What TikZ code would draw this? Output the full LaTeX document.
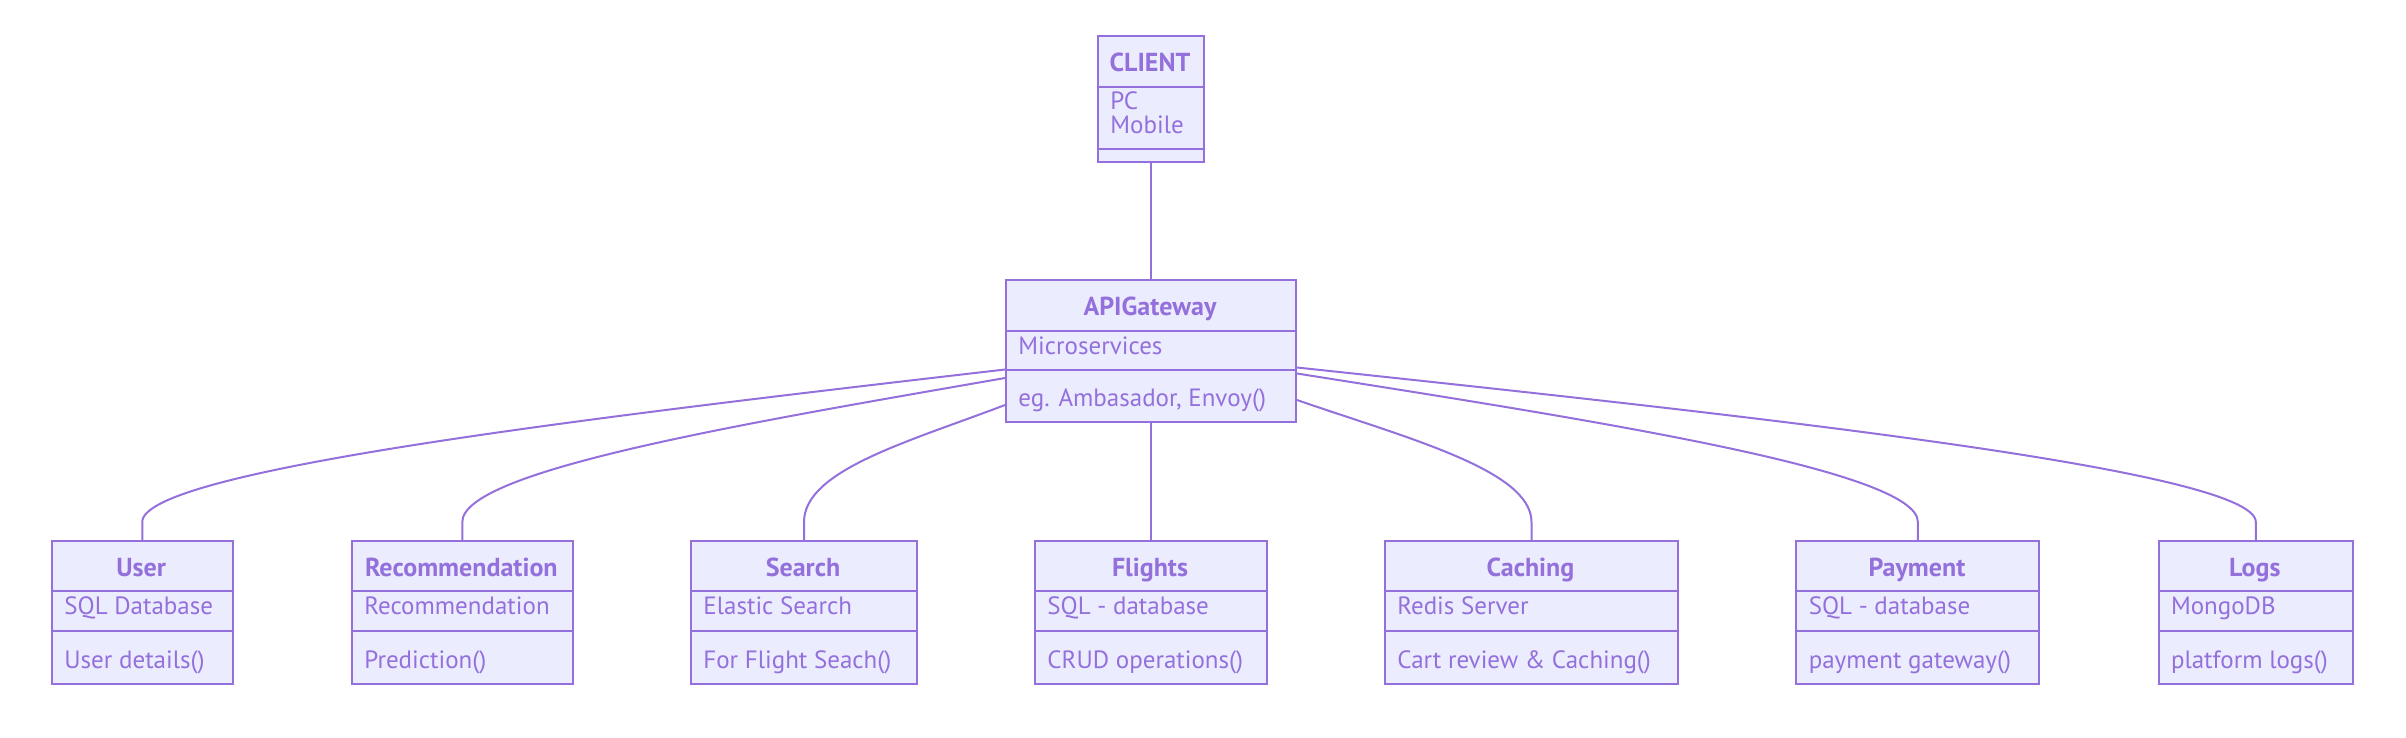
\documentclass[tikz,border=0pt]{standalone}
\usepackage{fontspec}
\setmainfont{PT Sans}
\definecolor{mpurple}{HTML}{9370DB}
\definecolor{mfill}{HTML}{ECECFF}
\newcommand{\bbox}[6]{%
  \node[box, minimum width={(#3-#2)*0.5pt}, minimum height={142.5*0.5pt}] (#1) at (#2,540) {};
  \draw[divider] (#2,591) -- (#3,591);
  \draw[divider] (#2,630.5) -- (#3,630.5);
  \node[ttl] (#1-t) at ({(#2+#3)/2},576) {#4};
  \node[txt] (#1-a) at (#2+13,614) {#5};
  \node[txt] (#1-m) at (#2+13,668.5) {#6};
}
\begin{document}
\begin{tikzpicture}[x=0.5pt,y=-0.5pt,
  box/.style={draw=mpurple, fill=mfill, line width=1pt, inner sep=0pt, anchor=north west},
  divider/.style={draw=mpurple, line width=1pt},
  edge/.style={draw=mpurple, line width=1pt},
  ttl/.style={text=mpurple, font=\bfseries\fontsize{13}{15}\selectfont, anchor=base, inner sep=0pt},
  txt/.style={text=mpurple, font=\fontsize{12.5}{15}\selectfont, anchor=base west, inner sep=0pt}]
\useasboundingbox (0,0) rectangle (2406,738);
% CLIENT
\node[box, minimum width={106*0.5pt}, minimum height={125.7*0.5pt}] (client) at (1097,35) {};
\draw[divider] (1097,86.7) -- (1203,86.7);
\draw[divider] (1097,149.3) -- (1203,149.3);
\node[ttl] (client-t) at (1150,71.7) {CLIENT};
\node[txt] (client-a1) at (1110,110) {PC};
\node[txt] (client-a2) at (1110,133.3) {Mobile};
% APIGateway
\node[box, minimum width={290*0.5pt}, minimum height={141.7*0.5pt}] (api) at (1005,279) {};
\draw[divider] (1005,330.7) -- (1295,330.7);
\draw[divider] (1005,370) -- (1295,370);
\node[ttl] (api-t) at (1150,315) {APIGateway};
\node[txt] (api-a) at (1018,354.3) {Microservices};
\node[txt] (api-m) at (1018,406) {eg. Ambasador, Envoy()};
% bottom row
\bbox{user}{51}{231.5}{User}{SQL Database}{User details()}
\bbox{rec}{351}{571.6}{Recommendation}{Recommendation}{Prediction()}
\bbox{search}{690}{916}{Search}{Elastic Search}{For Flight Seach()}
\bbox{flights}{1034}{1266}{Flights}{SQL - database}{CRUD operations()}
\bbox{caching}{1384}{1677}{Caching}{Redis Server}{Cart review \& Caching()}
\bbox{payment}{1795.4}{2038.4}{Payment}{SQL - database}{payment gateway()}
\bbox{logs}{2157.6}{2352}{Logs}{MongoDB}{platform logs()}
% connectors
\draw[edge] (client.south) -- (api.north);
\draw[edge] (api.south) -- (flights.north);
\draw[edge] (api.west |- 0,369.5) .. controls (599,416.5) and (user.north |- 0,470) .. (user.north |- 0,522) -- (user.north);
\draw[edge] (api.west |- 0,378) .. controls (749.5,422.6) and (rec.north |- 0,470) .. (rec.north |- 0,522) -- (rec.north);
\draw[edge] (api.west |- 0,405) .. controls (910,441.3) and (search.north |- 0,470) .. (search.north |- 0,522) -- (search.north);
\draw[edge] (api.east |- 0,400) .. controls (1405.7,437.8) and (caching.north |- 0,470) .. (caching.north |- 0,522) -- (caching.north);
\draw[edge] (api.east |- 0,373.5) .. controls (1587.3,419.5) and (payment.north |- 0,470) .. (payment.north |- 0,522) -- (payment.north);
\draw[edge] (api.east |- 0,367.5) .. controls (1746.1,415.4) and (logs.north |- 0,470) .. (logs.north |- 0,522) -- (logs.north);
\end{tikzpicture}
\end{document}
